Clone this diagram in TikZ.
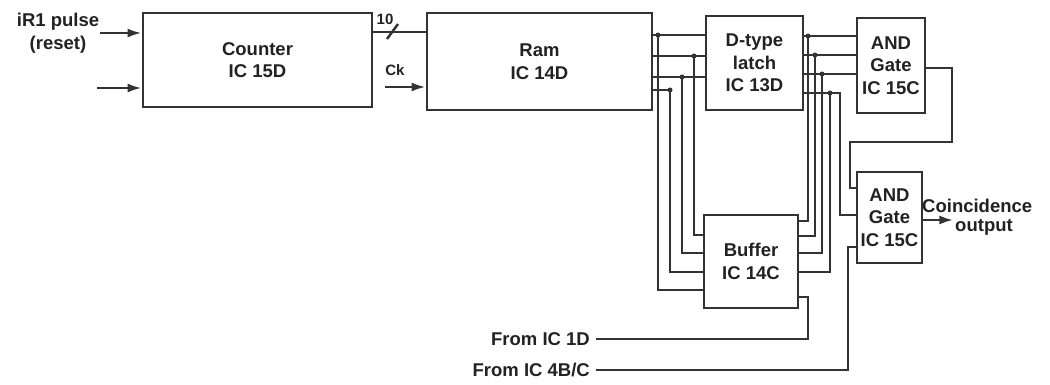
\documentclass[tikz,border=0pt]{standalone}
\usepackage{fontspec}
\setmainfont{Liberation Sans}
\usetikzlibrary{arrows.meta}
\definecolor{linec}{HTML}{333333}
\definecolor{txtc}{HTML}{222222}
\newcommand\dglbl{\fontsize{18.5}{22.5}\selectfont\bfseries}
\newcommand\dgsmall{\fontsize{15}{17}\selectfont\bfseries}
\begin{document}
\begin{tikzpicture}[x=1pt,y=-1pt,
  box/.style={draw=linec, line width=2.8pt, fill=white, align=center, inner sep=0pt, font=\dglbl, text=txtc},
  wire/.style={draw=linec, line width=2.5pt},
  arr/.style={wire, -{Latex[length=14pt,width=9pt]}},
  lab/.style={font=\dglbl, text=txtc, align=center, inner sep=0pt},
  jdot/.style={fill=linec, circle, inner sep=0pt, minimum size=5pt}
]
\useasboundingbox[fill=white] (0,0) rectangle (1050,385);

% blocks
\node[box, minimum width=229pt, minimum height=94pt] (counter) at (257.5,60) {Counter\\IC 15D};
\node[box, minimum width=225pt, minimum height=97pt] (ram) at (539.5,61.5) {Ram\\IC 14D};
\node[box, minimum width=97pt, minimum height=94pt] (latch) at (754.5,63) {D-type\\latch\\IC 13D};
\node[box, minimum width=68pt, minimum height=95pt] (and1) at (891,65.5) {AND\\Gate\\IC 15C};
\node[box, minimum width=65pt, minimum height=91pt] (and2) at (889.5,217.5) {AND\\Gate\\IC 15C};
\node[box, minimum width=94pt, minimum height=93pt] (buffer) at (751,261.5) {Buffer\\IC 14C};

% labels
\node[lab] (reset) at (58,33) {iR1 pulse\\(reset)};
\node[lab, font=\dgsmall] (ten) at (385,19) {10};
\node[lab, font=\dgsmall] (ck) at (395,70) {Ck};
\node[lab, anchor=west] (coin) at (922,206) {Coincidence};
\node[lab] (outp) at (984,227) {output};
\node[lab, anchor=east] (fromd) at (590,339) {From IC 1D};
\node[lab, anchor=east] (fromb) at (590,370) {From IC 4B/C};

% counter inputs
\coordinate (in1) at (100,33);
\coordinate (in2) at (97,88);
\draw[arr] (in1) -- (counter.west |- in1);
\draw[arr] (in2) -- (counter.west |- in2);

% counter -> ram
\draw[wire] (counter.east |- 0,32) -- (ram.west |- 0,32);
\draw[wire] (387,39) -- (398,24);
\coordinate (ckin) at (385,87);
\draw[arr] (ckin) -- (ram.west |- ckin);

% ram -> latch bus
\foreach \y in {35,56,77}
  \draw[wire] (ram.east |- 0,\y) -- (latch.west |- 0,\y);
\draw[wire] (ram.east |- 0,90) -- (670,90);
\draw[wire] (658,35) |- (buffer.west |- 0,290);
\draw[wire] (670,90) |- (buffer.west |- 0,272);
\draw[wire] (682,77) |- (buffer.west |- 0,253);
\draw[wire] (694,56) |- (buffer.west |- 0,235);
\foreach \p in {(658,35),(670,90),(682,77),(694,56)}
  \node[jdot] at \p {};

% latch -> and1 bus
\foreach \y in {36,55,74}
  \draw[wire] (latch.east |- 0,\y) -- (and1.west |- 0,\y);
\draw[wire] (latch.east |- 0,93) -- (840,93) -- (840,215) -- (and2.west |- 0,215);
\draw[wire] (808,36) |- (buffer.east |- 0,221);
\draw[wire] (815,55) |- (buffer.east |- 0,236);
\draw[wire] (822,74) |- (buffer.east |- 0,253);
\draw[wire] (830,93) |- (buffer.east |- 0,272);
\foreach \p in {(808,36),(815,55),(822,74),(830,93)}
  \node[jdot] at \p {};

% and1 -> and2
\draw[wire] (and1.east |- 0,68) -- (952,68) -- (952,142) -- (850,142) -- (850,188) -- (and2.west |- 0,188);

% external inputs
\draw[wire] (fromd.east) ++(6,0) -- (808,339) -- (808,297) -- (buffer.east |- 0,297);
\draw[wire] (fromb.east) ++(6,0) -- (848,370) -- (848,247) -- (and2.west |- 0,247);

% output
\draw[arr] (and2.east |- 0,220) -- ++(30,0);
\end{tikzpicture}
\end{document}
